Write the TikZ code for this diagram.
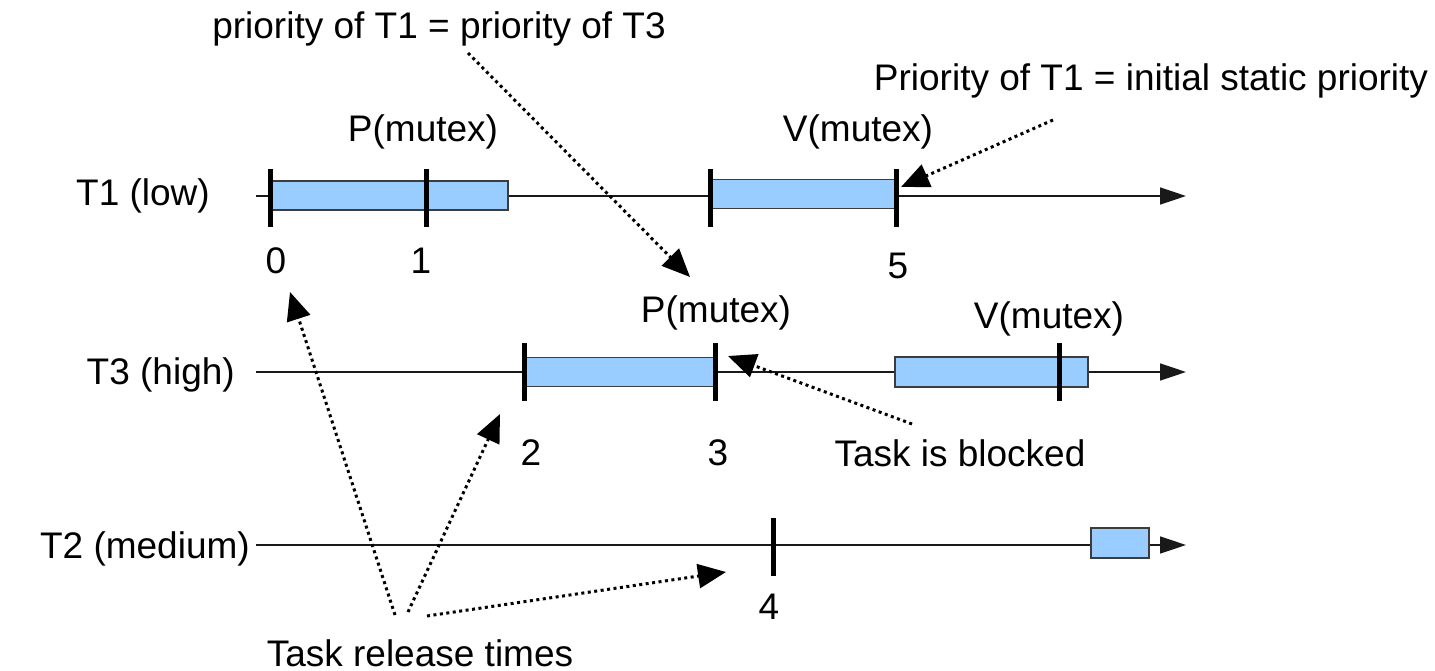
\documentclass[tikz,border=0pt]{standalone}
\usepackage{fontspec}
\setmainfont{Liberation Sans}
\usetikzlibrary{arrows.meta}
\definecolor{barblue}{HTML}{99CCFF}
\definecolor{barline}{HTML}{3C3C3C}
\begin{document}
\begin{tikzpicture}[x=1pt,y=-1pt,
  lbl/.style={font=\fontsize{37}{44}\selectfont, inner sep=0pt, anchor=base},
  rowlbl/.style={lbl, anchor=base east},
  timeline/.style={line width=1.5pt, draw=black!90, -{Triangle[length=26pt,width=17pt]}},
  bar/.style={draw=barline, fill=barblue, line width=1.5pt, inner sep=0pt, outer sep=0pt},
  tickmark/.style={line width=5pt, draw=black},
  note/.style={line width=3pt, dash pattern=on 3pt off 3.5pt, -{Triangle[length=28pt,width=24pt]}}
]
\useasboundingbox[fill=white] (0,0) rectangle (1435,671);

% timeline coordinates
\coordinate (t1s) at (256,196);
\coordinate (t1e) at (1186,196);
\coordinate (t3s) at (256,372);
\coordinate (t3e) at (1186,372);
\coordinate (t2s) at (256,545);
\coordinate (t2e) at (1186,545);

\draw[timeline] (t1s) -- (t1e);
\draw[timeline] (t3s) -- (t3e);
\draw[timeline] (t2s) -- (t2e);

% bars
\node[bar, minimum width=238pt, minimum height=29pt] (b1) at (389,195.5) {};
\node[bar, minimum width=186pt, minimum height=29pt] (b2) at (803,194) {};
\node[bar, minimum width=191pt, minimum height=29pt] (b3) at (619,372) {};
\node[bar, minimum width=193pt, minimum height=30pt] (b4) at (991.5,372) {};
\node[bar, minimum width=58pt, minimum height=30pt] (b5) at (1120,543) {};

% ticks
\draw[tickmark] (270,169) -- (270,227);
\draw[tickmark] (426,169) -- (426,227);
\draw[tickmark] (710,169) -- (710,227);
\draw[tickmark] (896,169) -- (896,227);
\draw[tickmark] (524,343) -- (524,401);
\draw[tickmark] (715,343) -- (715,401);
\draw[tickmark] (1059,343) -- (1059,401);
\draw[tickmark] (773,518) -- (773,576);

% labels
\node[rowlbl] (lt1) at (210,206) {T1 (low)};
\node[rowlbl] (lt3) at (235,384) {T3 (high)};
\node[rowlbl] (lt2) at (250,558) {T2 (medium)};

\node[lbl] (pm1) at (423,142) {P(mutex)};
\node[lbl] (vm1) at (858,142) {V(mutex)};
\node[lbl] (pm3) at (716,322) {P(mutex)};
\node[lbl] (vm3) at (1049,328) {V(mutex)};

\node[lbl] (n0) at (276,273) {0};
\node[lbl] (n1) at (421,273) {1};
\node[lbl] (n5) at (898,278) {5};
\node[lbl] (n2) at (531,465) {2};
\node[lbl] (n3) at (718,465) {3};
\node[lbl] (n4) at (769,619) {4};

\node[lbl] (prio) at (439,39) {priority of T1 = priority of T3};
\node[lbl] (init) at (1151,91) {Priority of T1 = initial static priority};
\node[lbl] (blk) at (960,466) {Task is blocked};
\node[lbl] (rel) at (420,666) {Task release times};

% annotation arrows
\coordinate (a1s) at (468,53);   \coordinate (a1e) at (690,277);
\coordinate (a2s) at (1053,120); \coordinate (a2e) at (901,187);
\coordinate (a3s) at (912,424);  \coordinate (a3e) at (728,356);
\coordinate (a4s) at (395,615);  \coordinate (a4e) at (290,292);
\coordinate (a5s) at (408,612);  \coordinate (a5e) at (500,414);
\coordinate (a6s) at (427,616);  \coordinate (a6e) at (726,572);

\draw[note] (a1s) -- (a1e);
\draw[note] (a2s) -- (a2e);
\draw[note] (a3s) -- (a3e);
\draw[note] (a4s) -- (a4e);
\draw[note] (a5s) -- (a5e);
\draw[note] (a6s) -- (a6e);
\end{tikzpicture}
\end{document}
